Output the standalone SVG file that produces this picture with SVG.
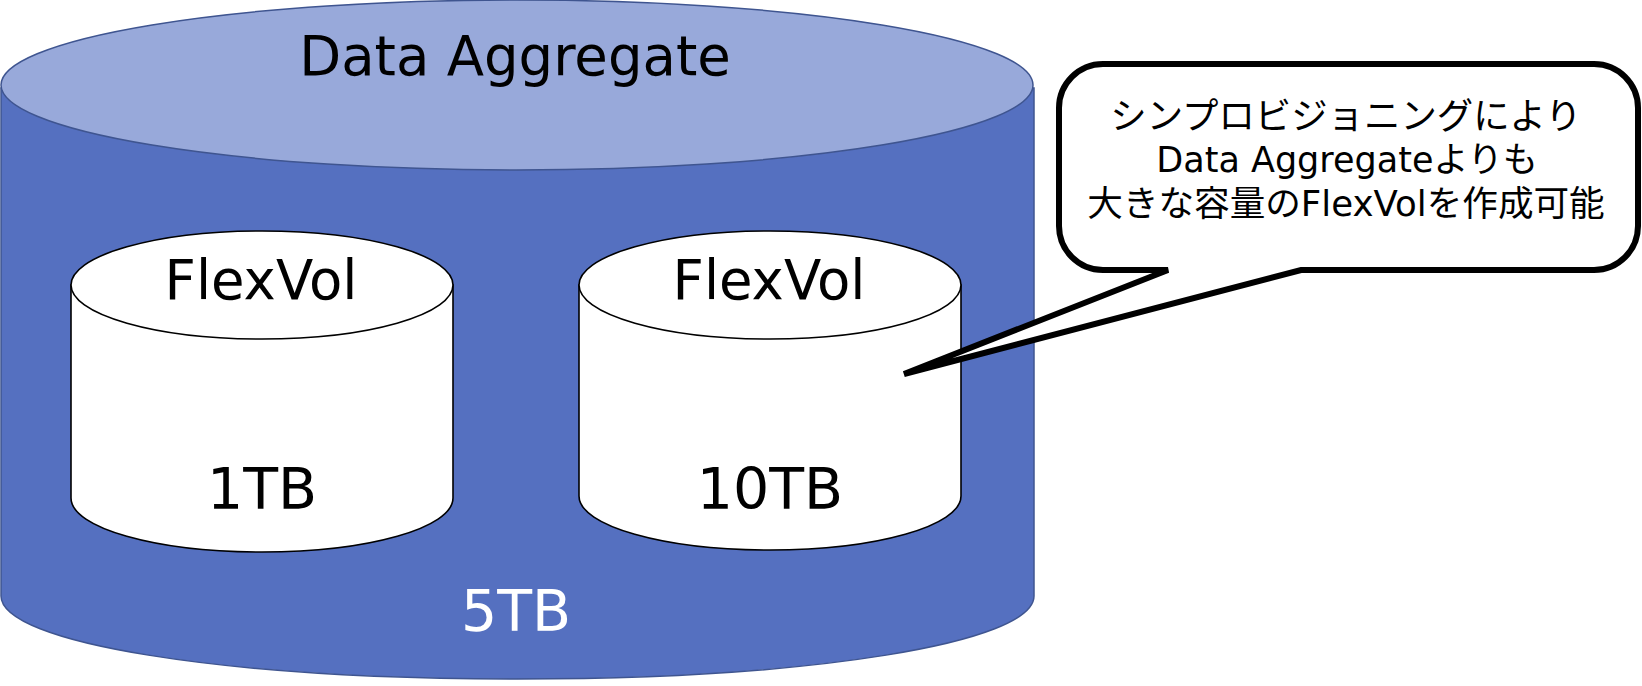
<svg xmlns="http://www.w3.org/2000/svg" width="1642" height="686" viewBox="0 0 1642 686">
<style>
text{font-family:"DejaVu Sans","Noto Sans CJK JP",sans-serif;text-anchor:middle;fill:#000}
.big{font-size:54.5px}
.size{font-size:57px}
.note{font-size:35.6px}
.cyl{fill:#fff;stroke:#000;stroke-width:1.6}
</style>
<rect width="1642" height="686" fill="#fff"/>
<g id="aggregate">
<path d="M1 88V596C1 643 222 679 517 679S1034 643 1034 596V88Z" fill="#5570c0" stroke="#3f5590" stroke-width="1.5"/>
<ellipse cx="517" cy="85" rx="516" ry="85" fill="#98a9da" stroke="#3f5590" stroke-width="1.5"/>
<text class="big" x="515" y="75">Data Aggregate</text>
<text class="size" x="516" y="631" style="fill:#fff">5TB</text>
</g>
<g id="flexvol1">
<path class="cyl" d="M71 285V498C71 528 156 552 262 552S453 528 453 498V285Z"/>
<ellipse class="cyl" cx="262" cy="285" rx="191" ry="54"/>
<text class="big" x="261" y="299">FlexVol</text>
<text class="size" x="262" y="509">1TB</text>
</g>
<g id="flexvol2">
<path class="cyl" d="M579 285V496C579 526 664 550 770 550S961 526 961 496V285Z"/>
<ellipse class="cyl" cx="770" cy="285" rx="191" ry="54"/>
<text class="big" x="769" y="299">FlexVol</text>
<text class="size" x="770" y="509">10TB</text>
</g>
<g id="callout">
<path d="M1103 64H1594A44 44 0 0 1 1638 108V226A44 44 0 0 1 1594 270H1301L904 374L1168 270H1103A44 44 0 0 1 1059 226V108A44 44 0 0 1 1103 64Z" fill="#fff" stroke="#000" stroke-width="6"/>
<text class="note" x="1346" y="129" style="font-size:36.4px">シンプロビジョニングにより</text>
<text class="note" x="1347" y="172" style="font-size:35px">Data Aggregateよりも</text>
<text class="note" x="1346" y="216">大きな容量のFlexVolを作成可能</text>
</g>
</svg>
